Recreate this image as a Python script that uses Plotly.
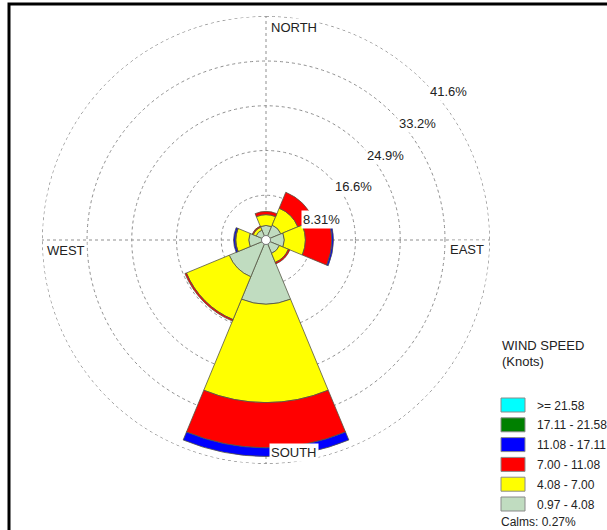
import math
import plotly.graph_objects as go

# ---------------- data ----------------
directions = [0, 45, 90, 135, 180, 225, 270, 315]  # N, NE, E, SE, S, SW, W, NW
bin_labels = ["0.97 - 4.08", "4.08 - 7.00", "7.00 - 11.08",
              "11.08 - 17.11", "17.11 - 21.58", ">= 21.58"]
bin_colors = ["#C0DCC0", "#FFFF00", "#FF0000", "#0000FF", "#008000", "#00FFFF"]

spd_097_408 = [2.7, 3.0, 3.4, 2.7, 11.9, 7.4, 3.2, 2.0]
spd_408_700 = [2.0, 3.4, 3.9, 1.8, 18.3, 8.6, 2.4, 0.6]
spd_700_1108 = [0.6, 3.2, 4.9, 0.3, 8.4, 0.3, 0.1, 0.2]
spd_1108_1711 = [0.0, 0.0, 0.3, 0.0, 1.6, 0.0, 0.3, 0.0]
spd_1711_2158 = [0.0, 0.0, 0.0, 0.0, 0.0, 0.0, 0.0, 0.0]
spd_ge_2158 = [0.0, 0.0, 0.0, 0.0, 0.0, 0.0, 0.0, 0.0]

ring_values = [8.31, 16.62, 24.93, 33.24, 41.55]
ring_labels = ["8.31%", "16.6%", "24.9%", "33.2%", "41.6%"]
calms_text = "Calms: 0.27%"
compass = ["NORTH", "EAST", "SOUTH", "WEST"]

series = [spd_097_408, spd_408_700, spd_700_1108,
          spd_1108_1711, spd_1711_2158, spd_ge_2158]

# ---------------- layout geometry ----------------
W, H = 607, 530
CX, CY, R = 266, 240, 224
RMAX = 41.6
FONT = "Arial, Liberation Sans, sans-serif"
TXT = "#222222"
GRID = "#8f8f8f"


def px(x):
    return x / W


def py(y):
    return 1 - y / H


fig = go.Figure()

for vals, name, col in zip(series, bin_labels, bin_colors):
    fig.add_trace(go.Barpolar(
        r=[v if v > 0 else None for v in vals],
        theta=directions,
        width=[45] * len(directions),
        name=name,
        marker=dict(color=col, line=dict(color="#555544", width=0.8)),
        showlegend=False,
        hoverinfo="skip",
    ))

# outermost dotted ring (at the top of the radial range)
ring_theta = [i * 2 for i in range(181)]
fig.add_trace(go.Scatterpolar(
    r=[ring_values[-1]] * len(ring_theta), theta=ring_theta, mode="lines",
    line=dict(color=GRID, width=1, dash="dot"),
    showlegend=False, hoverinfo="skip",
))

# calm circle at the centre
fig.add_trace(go.Scatterpolar(
    r=[0], theta=[0], mode="markers",
    marker=dict(size=9, color="white", line=dict(color="#777777", width=1)),
    showlegend=False, hoverinfo="skip",
))

fig.update_layout(
    width=W, height=H,
    margin=dict(l=0, r=0, t=0, b=0),
    paper_bgcolor="white",
    showlegend=False,
    polar=dict(
        domain=dict(x=[px(CX - R), px(CX + R)], y=[py(CY + R), py(CY - R)]),
        bgcolor="white",
        barmode="stack",
        angularaxis=dict(
            rotation=90, direction="clockwise",
            tickvals=[0, 90, 180, 270],
            showticklabels=False, ticks="",
            showline=False,
            showgrid=True, gridcolor=GRID, gridwidth=1, griddash="dot",
        ),
        radialaxis=dict(
            range=[0, RMAX],
            tickvals=ring_values,
            showticklabels=False, ticks="",
            showline=False,
            showgrid=True, gridcolor=GRID, gridwidth=1, griddash="dot",
        ),
    ),
)

annotations = []

# ring labels along a line just inside each ring (upper right quadrant)
scale = R / RMAX
for val, lab in zip(ring_values, ring_labels):
    rp = val * scale - 4
    dx = (14 + math.sqrt(2 * rp * rp - 196)) / 2
    dy = dx - 14
    annotations.append(dict(
        x=px(CX + dx), y=py(CY - dy), xref="paper", yref="paper",
        text=lab, showarrow=False, xanchor="left", yanchor="middle",
        font=dict(family=FONT, size=13, color=TXT),
        bgcolor="white", borderpad=1,
    ))

# compass labels
compass_pos = {
    "NORTH": (CX + 3, 28, "left"),
    "EAST": (CX + R - 4, 249, "right"),
    "SOUTH": (CX + 3, 452, "left"),
    "WEST": (CX - R + 3, 250, "left"),
}
for lab in compass:
    x, y, xa = compass_pos[lab]
    annotations.append(dict(
        x=px(x), y=py(y), xref="paper", yref="paper",
        text=lab, showarrow=False, xanchor=xa, yanchor="middle",
        font=dict(family=FONT, size=13, color=TXT),
        bgcolor="white", borderpad=1,
    ))

# legend (manual)
shapes = []
annotations.append(dict(x=px(500), y=py(345), xref="paper", yref="paper",
                        text="WIND SPEED", showarrow=False, xanchor="left",
                        yanchor="middle", font=dict(family=FONT, size=13, color=TXT)))
annotations.append(dict(x=px(500), y=py(361), xref="paper", yref="paper",
                        text="(Knots)", showarrow=False, xanchor="left",
                        yanchor="middle", font=dict(family=FONT, size=13, color=TXT)))
for i, (lab, col) in enumerate(zip(bin_labels[::-1], bin_colors[::-1])):
    top = 398 + i * 19.8
    shapes.append(dict(type="rect", xref="paper", yref="paper",
                       x0=px(501), x1=px(525), y0=py(top), y1=py(top + 14),
                       fillcolor=col, line=dict(color="#8a8a8a", width=1)))
    annotations.append(dict(x=px(535), y=py(top + 7.5), xref="paper", yref="paper",
                            text=lab, showarrow=False, xanchor="left",
                            yanchor="middle",
                            font=dict(family=FONT, size=12, color=TXT)))
annotations.append(dict(x=px(499), y=py(522), xref="paper", yref="paper",
                        text=calms_text, showarrow=False, xanchor="left",
                        yanchor="middle", font=dict(family=FONT, size=12, color=TXT)))

# outer frame (extends past the right/bottom edges)
shapes.append(dict(type="rect", xref="paper", yref="paper",
                   x0=px(9), y0=py(4), x1=px(W + 20), y1=py(H + 20),
                   line=dict(color="black", width=3), fillcolor="rgba(0,0,0,0)"))

fig.update_layout(annotations=annotations, shapes=shapes)

fig.write_html("out.html")
